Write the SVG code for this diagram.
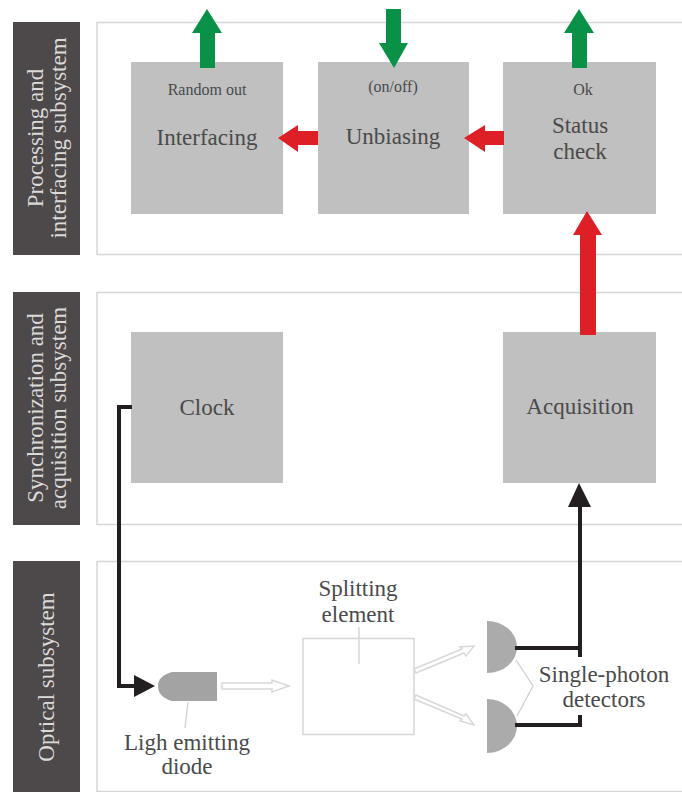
<svg xmlns="http://www.w3.org/2000/svg" width="682" height="792" viewBox="0 0 682 792">
<style>
text{font-family:"Liberation Serif",serif;fill:#4a4a4a;text-anchor:middle}
.panel{fill:#fff;stroke:#d6d6d6;stroke-width:1.5}
.bar{fill:#4d4849}
.barT{fill:#dcd9d9;font-size:23px}
.box{fill:#c0c0c0}
.t{font-size:23px}
.s{font-size:16px}
.green{fill:#0a9148}
.red{fill:#de1f26}
.wire{fill:none;stroke:#231f20;stroke-width:4}
.hollow{fill:#fff;stroke:#d8d8d8;stroke-width:1.5}
.leader{fill:none;stroke:#d0d0d0;stroke-width:1.3}
.det{fill:#ababab}
</style>
<rect width="682" height="792" fill="#fff"/>
<g id="processing-subsystem">
<rect class="panel" x="97" y="22.500" width="586" height="232"/>
<rect class="bar" x="13" y="22" width="67" height="233"/>
<text class="barT" transform="translate(43 138) rotate(-90)">Processing and</text>
<text class="barT" transform="translate(66 138) rotate(-90)">interfacing subsystem</text>
</g>
<g id="synchronization-subsystem">
<rect class="panel" x="97" y="292.500" width="586" height="232"/>
<rect class="bar" x="13" y="292" width="67" height="233"/>
<text class="barT" transform="translate(43 408) rotate(-90)">Synchronization and</text>
<text class="barT" transform="translate(66 408) rotate(-90)">acquisition subsystem</text>
</g>
<g id="optical-subsystem">
<rect class="panel" x="97" y="561.500" width="586" height="230"/>
<rect class="bar" x="13" y="561" width="67" height="231"/>
<text class="barT" transform="translate(54 677) rotate(-90)">Optical subsystem</text>
</g>
<g id="interfacing">
<rect class="box" x="131" y="62" width="152" height="152"/>
<text class="s" x="207" y="95">Random out</text>
<text class="t" x="207" y="145">Interfacing</text>
</g>
<g id="unbiasing">
<rect class="box" x="318" y="62" width="151" height="152"/>
<text class="s" x="393" y="92">(on/off)</text>
<text class="t" x="393" y="144">Unbiasing</text>
</g>
<g id="status-check">
<rect class="box" x="503" y="62" width="153" height="152"/>
<text class="s" x="583" y="95">Ok</text>
<text class="t" x="580" y="133">Status</text>
<text class="t" x="580" y="159">check</text>
</g>
<g id="clock">
<rect class="box" x="131" y="332" width="152" height="151"/>
<text class="t" x="207" y="415">Clock</text>
</g>
<g id="acquisition">
<rect class="box" x="503" y="332" width="153" height="151"/>
<text class="t" x="580" y="414">Acquisition</text>
</g>
<g id="led">
<path d="M217 672H172Q158 676 158 686Q158 697 172 701H217Z" fill="#a3a3a3"/>
<text class="t" x="187" y="750">Ligh emitting</text>
<text class="t" x="187" y="774">diode</text>
<path class="leader" d="M188 702L185 728"/>
</g>
<g id="splitting-element">
<rect class="panel" x="303" y="638.500" width="111" height="96"/>
<text class="t" x="358" y="596">Splitting</text>
<text class="t" x="358" y="622">element</text>
<path class="leader" d="M359 627V664"/>
</g>
<g id="detector-1">
<path class="det" d="M487 621A30 26 0 0 1 487 673Z"/>
</g>
<g id="detector-2">
<path class="det" d="M487 699A30 27 0 0 1 487 753Z"/>
</g>
<g id="detectors-label">
<text class="t" x="604" y="682">Single-photon</text>
<text class="t" x="604" y="707">detectors</text>
<path class="leader" d="M516 660L533 686L517 716"/>
</g>
<g id="connectors">
<path class="green" d="M200 68V33H192L207 9L222 33H215V68Z"/>
<path class="green" d="M386 9H401V43H408L394 68L379 43H386Z"/>
<path class="green" d="M572 68V33H564L579 9L594 33H587V68Z"/>
<path class="red" d="M318 131V145H298V152L278 138L298 125V131Z"/>
<path class="red" d="M504 131V145H485V152L464 138L485 125V131Z"/>
<path class="red" d="M580 335V235H573L587 211L602 235H596V335Z"/>
<path class="wire" d="M132 407H119V686H140"/>
<path d="M134 675L155 686L134 697Z" fill="#231f20"/>
<path class="wire" d="M515 648H580M580 507V657"/>
<path d="M568 507L579 483L591 507Z" fill="#231f20"/>
<path class="wire" d="M515 725H580V715"/>
<path class="hollow" d="M222 683H272V680L289 686L272 692V689H222Z"/>
<path class="hollow" d="M414 669L462 649L460 647L474 646L466 656L464 653L416 673Z"/>
<path class="hollow" d="M414 699L462 719L460 721L474 725L466 714L464 716L416 695Z"/>
</g>
</svg>
